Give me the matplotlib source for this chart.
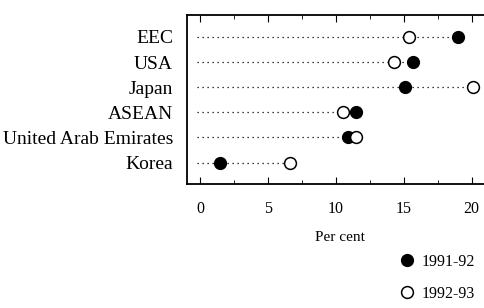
import matplotlib
matplotlib.use("Agg")
import matplotlib.pyplot as plt
from matplotlib.ticker import MultipleLocator

# data (per cent)
regions = ["EEC", "USA", "Japan", "ASEAN", "United Arab Emirates", "Korea"]
share_1991 = [19.0, 15.7, 15.1, 11.5, 10.9, 1.5]
share_1992 = [15.4, 14.3, 20.1, 10.5, 11.5, 6.6]
labels = ["1991-92", "1992-93"]

plt.rcParams["font.family"] = ["Liberation Serif", "DejaVu Serif"]

fig = plt.figure(figsize=(4.85, 3.08), dpi=100)
ax = fig.add_axes([187 / 485, 1 - 184 / 308, (492 - 187) / 485, (184 - 15) / 308])

ypos = list(range(len(regions) - 1, -1, -1))
for y, a, b in zip(ypos, share_1991, share_1992):
    ax.plot([-0.2, max(a, b)], [y, y], color="black", lw=0.9, ls=(0, (1, 3)), zorder=1)

h1, = ax.plot(share_1991, ypos, "o", ms=8.5, mfc="black", mec="black", ls="none", zorder=3)
h2, = ax.plot(share_1992, ypos, "o", ms=8.5, mfc="white", mec="black", mew=1.1, ls="none", zorder=3)

ax.set_xlim(-0.95, 21.5)
ax.set_ylim(-0.85, len(regions) - 1 + 0.87)
ax.set_yticks(ypos)
ax.set_yticklabels(regions, fontsize=14)
ax.tick_params(axis="y", length=0, pad=10)
ax.xaxis.set_major_locator(MultipleLocator(5))
ax.xaxis.set_minor_locator(MultipleLocator(2.5))
ax.tick_params(axis="x", which="both", direction="in", top=True, labelsize=11.5, pad=12)
ax.tick_params(axis="x", which="major", length=5)
ax.tick_params(axis="x", which="minor", length=3)
ax.set_xlabel("Per cent", fontsize=11, labelpad=10)
for s in ax.spines.values():
    s.set_linewidth(1.3)

fig.legend([h1, h2], labels, loc="upper left", bbox_to_anchor=(399 / 485, 1 - 254 / 308),
           frameon=False, fontsize=11.5, handlelength=1.0, handletextpad=0.4,
           labelspacing=1.0, borderpad=0, borderaxespad=0)

fig.savefig("out.png", dpi=100)
